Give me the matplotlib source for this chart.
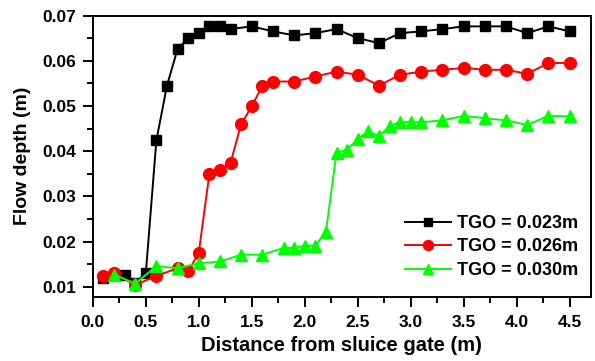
import matplotlib.pyplot as plt
from matplotlib.ticker import MultipleLocator

plt.rcParams['font.family'] = ['Liberation Sans', 'DejaVu Sans']
plt.rcParams['font.weight'] = 'bold'

# TGO = 0.023 m
x_023 = [0.1, 0.2, 0.3, 0.4, 0.5, 0.6, 0.7, 0.8, 0.9, 1.0, 1.1, 1.2, 1.3, 1.5, 1.7,
         1.9, 2.1, 2.3, 2.5, 2.7, 2.9, 3.1, 3.3, 3.5, 3.7, 3.9, 4.1, 4.3, 4.5]
y_023 = [0.0119, 0.0127, 0.0126, 0.0108, 0.0130, 0.0424, 0.0545, 0.0626, 0.0650, 0.0661,
         0.0676, 0.0676, 0.0670, 0.0676, 0.0665, 0.0656, 0.0661, 0.0670, 0.0650, 0.0639,
         0.0661, 0.0665, 0.0670, 0.0676, 0.0676, 0.0676, 0.0661, 0.0676, 0.0665]

# TGO = 0.026 m
x_026 = [0.1, 0.2, 0.4, 0.6, 0.8, 0.9, 1.0, 1.1, 1.2, 1.3, 1.4, 1.5, 1.6, 1.7, 1.9,
         2.1, 2.3, 2.5, 2.7, 2.9, 3.1, 3.3, 3.5, 3.7, 3.9, 4.1, 4.3, 4.5]
y_026 = [0.0124, 0.0130, 0.0104, 0.0124, 0.0141, 0.0134, 0.0175, 0.0350, 0.0359, 0.0374,
         0.0460, 0.0499, 0.0545, 0.0554, 0.0554, 0.0565, 0.0576, 0.0569, 0.0545, 0.0569,
         0.0576, 0.0580, 0.0584, 0.0580, 0.0580, 0.0571, 0.0595, 0.0595]

# TGO = 0.030 m
x_030 = [0.2, 0.4, 0.6, 0.8, 1.0, 1.2, 1.4, 1.6, 1.8, 1.9, 2.0, 2.1, 2.2, 2.3, 2.4,
         2.5, 2.6, 2.7, 2.8, 2.9, 3.0, 3.1, 3.3, 3.5, 3.7, 3.9, 4.1, 4.3, 4.5]
y_030 = [0.0127, 0.0107, 0.0146, 0.0141, 0.0152, 0.0156, 0.0171, 0.0171, 0.0186, 0.0186,
         0.0191, 0.0191, 0.0222, 0.0397, 0.0403, 0.0427, 0.0444, 0.0433, 0.0455, 0.0464,
         0.0464, 0.0464, 0.0468, 0.0478, 0.0473, 0.0468, 0.0458, 0.0478, 0.0477]

fig = plt.figure(figsize=(5.95, 3.61), dpi=100)
ax = fig.add_axes([0.156, 0.178, 0.837, 0.779])

ax.plot(x_023, y_023, '-s', color='black', lw=1.4, markersize=7.5, label='TGO = 0.023m')
ax.plot(x_026, y_026, '-o', color='#ff0000', lw=1.4, markersize=8.5, label='TGO = 0.026m')
ax.plot(x_030, y_030, '-^', color='#00ff00', lw=1.4, markersize=9, label='TGO = 0.030m')

ax.set_xlim(0.0, 4.70)
ax.set_ylim(0.0078, 0.07)
ax.xaxis.set_minor_locator(MultipleLocator(0.25))
ax.yaxis.set_minor_locator(MultipleLocator(0.005))
ax.set_xticks([0.0, 0.5, 1.0, 1.5, 2.0, 2.5, 3.0, 3.5, 4.0, 4.5])
ax.set_xticklabels(['0.0', '0.5', '1.0', '1.5', '2.0', '2.5', '3.0', '3.5', '4.0', '4.5'])
ax.set_yticks([0.01, 0.02, 0.03, 0.04, 0.05, 0.06, 0.07])
ax.set_yticklabels(['0.01', '0.02', '0.03', '0.04', '0.05', '0.06', '0.07'])

ax.tick_params(which='major', direction='out', length=7.5, width=1.4, labelsize=12.5)
ax.tick_params(axis='x', which='major', pad=6)
ax.tick_params(axis='y', which='major', pad=4.5)
ax.tick_params(which='minor', direction='out', length=4, width=1.4)
for s in ax.spines.values():
    s.set_linewidth(1.4)

ax.set_xlabel('Distance from sluice gate (m)', fontsize=14.5, fontweight='bold', labelpad=4)
ax.set_ylabel('Flow depth (m)', fontsize=14, fontweight='bold', labelpad=8)

ax.legend(loc='lower right', bbox_to_anchor=(0.989, 0.038), frameon=False, fontsize=13,
          handlelength=2.6, borderaxespad=0, labelspacing=0.36, handletextpad=0.3,
          markerscale=0.85)

fig.savefig('out.png', dpi=100)
